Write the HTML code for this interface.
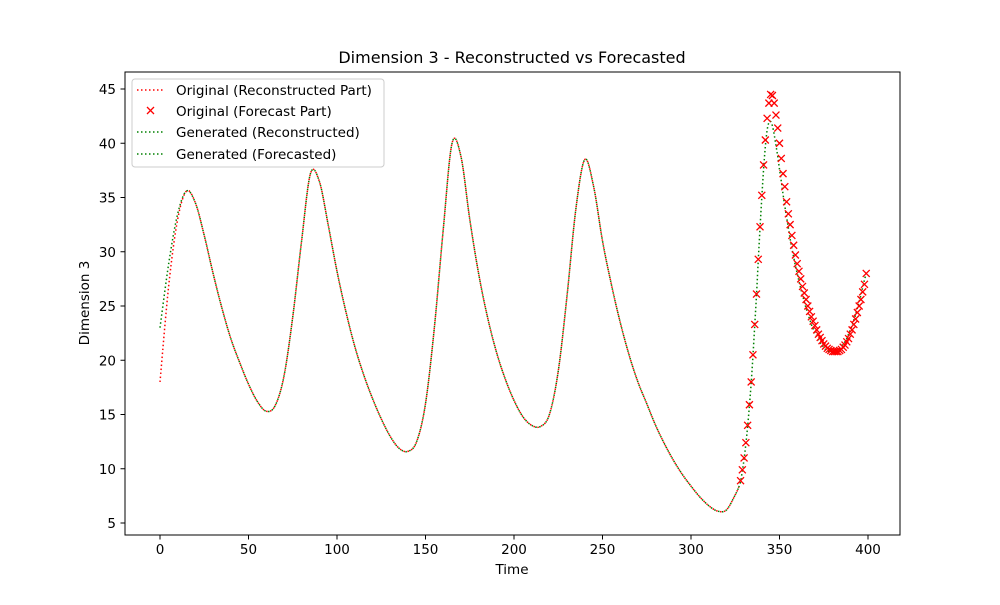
<!DOCTYPE html>
<html><head><meta charset="utf-8"><style>
body{margin:0;background:#fff;font-family:"Liberation Sans","DejaVu Sans",sans-serif}
svg text{font-family:"DejaVu Sans","Liberation Sans",sans-serif}
</style></head><body>
<svg id="chart" width="1000" height="600">
<rect width="1000" height="600" fill="#fff"/>
<text x="512" y="63" text-anchor="middle" font-size="16">Dimension 3 - Reconstructed vs Forecasted</text>
<g id="axes"></g>
<g id="series"></g>
<rect x="125" y="72" width="775" height="463" fill="none" stroke="#000" stroke-width="1"/>
<text x="512" y="574" text-anchor="middle" font-size="13.5">Time</text>
<text transform="translate(89,303) rotate(-90)" text-anchor="middle" font-size="13.5">Dimension 3</text>
<g>
<rect x="132" y="79" width="252" height="88" rx="3" fill="#fff" fill-opacity="0.8" stroke="#ccc"/>
<g>
<line x1="137" y1="90" x2="165" y2="90" stroke="red" stroke-width="1.5" stroke-dasharray="1.5,2.5"/>
<text x="176" y="95" font-size="13.5">Original (Reconstructed Part)</text></g>
<g>
<path d="M147,107 l7,7 M154,107 l-7,7" stroke="red" stroke-width="1.3"/>
<text x="176" y="116" font-size="13.5">Original (Forecast Part)</text></g>
<g>
<line x1="137" y1="132" x2="165" y2="132" stroke="green" stroke-width="1.5" stroke-dasharray="1.5,2.5"/>
<text x="176" y="137" font-size="13.5">Generated (Reconstructed)</text></g>
<g>
<line x1="137" y1="154" x2="165" y2="154" stroke="green" stroke-width="1.5" stroke-dasharray="1.5,2.5"/>
<text x="176" y="159" font-size="13.5">Generated (Forecasted)</text></g>
</g>
</svg>
<script>
const xTicks=[0,50,100,150,200,250,300,350,400];
const yTicks=[5,10,15,20,25,30,35,40,45];
const reconTimes=[0,5,10,15,20,25,30,35,40,45,50,55,60,65,70,75,80,85,90,95,100,105,110,115,120,125,130,135,140,145,150,155,160,165,170,175,180,185,190,195,200,205,210,215,220,225,230,235,240,245,250,255,260,265,270,275,280,285,290,295,300,305,310,315,320,325,327];
const origRecon=[18,27,33,35.6,34.5,31.5,28,24.8,22,19.8,17.8,16.2,15.3,15.8,18.5,24,31,37.2,36.5,32.5,28.2,24.5,21.3,18.7,16.5,14.6,13,11.9,11.6,12.5,16,23,32,40,38.8,33,28,24,20.8,18.3,16.3,14.8,14,13.9,15,19,26,34,38.5,36,31,27,23.5,20.5,18,16,14,12.3,10.8,9.5,8.4,7.4,6.6,6.1,6.2,7.6,8.3];
const genRecon=[23,29,33.5,35.6,34.5,31.5,28,24.8,22,19.8,17.8,16.2,15.3,15.8,18.5,24,31,37.2,36.5,32.5,28.2,24.5,21.3,18.7,16.5,14.6,13,11.9,11.6,12.5,16,23,32,40,38.8,33,28,24,20.8,18.3,16.3,14.8,14,13.9,15,19,26,34,38.5,36,31,27,23.5,20.5,18,16,14,12.3,10.8,9.5,8.4,7.4,6.6,6.1,6.2,7.6,8.3];
const fcStart=328;
const origForecast=[8.9,9.9,11,12.4,14,15.9,18,20.5,23.3,26.1,29.3,32.3,35.2,38,40.3,42.3,43.7,44.5,44.4,43.7,42.6,41.4,40,38.6,37.2,36,34.6,33.5,32.5,31.5,30.6,29.7,28.9,28.2,27.5,26.8,26.2,25.6,25,24.5,24,23.6,23.2,22.8,22.4,22.1,21.8,21.5,21.3,21.1,21,20.9,20.8,20.8,20.8,20.8,20.9,21,21.2,21.4,21.7,22,22.4,22.8,23.3,23.8,24.4,25,25.6,26.3,27,28];
const genForecast=[8.8,9.8,10.9,12.3,13.9,15.8,17.9,20.4,23.2,26,29.2,32.2,35,37.6,39.7,41.2,41.9,42,41.6,40.8,39.8,38.8,37.6,36.5,35.3,34.2,33.2,32.2,31.2,30.3,29.5,28.7,28,27.3,26.6,26,25.4,24.8,24.3,23.8,23.3,22.9,22.5,22.2,21.9,21.6,21.4,21.2,21,20.9,20.8,20.8,20.8,20.8,20.9,21,21.1,21.3,21.5,21.7,22,22.4,22.8,23.2,23.7,24.2,24.8,25.4,26,26.7,27.4,28];
const X=t=>160+t*1.77, Y=v=>523-(v-5)*10.85;
const NS='http://www.w3.org/2000/svg';
function mk(tag,attrs,parent){const e=document.createElementNS(NS,tag);for(const k in attrs)e.setAttribute(k,attrs[k]);parent.appendChild(e);return e;}
const ax=document.getElementById('axes'), sr=document.getElementById('series');
xTicks.forEach(t=>{
 const l=mk('line',{x1:X(t),x2:X(t),y1:535,y2:539.5,stroke:'#000'},ax);
 
 
 const tx=mk('text',{x:X(t),y:554,'text-anchor':'middle','font-size':'13.5'},ax);tx.textContent=t;
 
 
});
yTicks.forEach(v=>{
 const l=mk('line',{x1:120.5,x2:125,y1:Y(v),y2:Y(v),stroke:'#000'},ax);
 
 
 const tx=mk('text',{x:116,y:Y(v)+5,'text-anchor':'end','font-size':'13.5'},ax);tx.textContent=v;
 
 
});
function smooth(pts){let d='M'+pts[0][0]+','+pts[0][1];
 for(let i=0;i<pts.length-1;i++){const p0=pts[i-1]||pts[i],p1=pts[i],p2=pts[i+1],p3=pts[i+2]||p2;
  d+=' C'+(p1[0]+(p2[0]-p0[0])/6)+','+(p1[1]+(p2[1]-p0[1])/6)+' '+(p2[0]-(p3[0]-p1[0])/6)+','+(p2[1]-(p3[1]-p1[1])/6)+' '+p2[0]+','+p2[1];}
 return d;}
const reconPts=a=>reconTimes.map((t,i)=>[X(t),Y(a[i])]);
const fcPts=a=>a.map((v,i)=>[X(fcStart+i),Y(v)]);
const p1=mk('path',{d:smooth(reconPts(origRecon)),fill:'none',stroke:'red','stroke-width':1.5,'stroke-dasharray':'1.5,2.5'},sr);


const p2=mk('path',{d:smooth(reconPts(genRecon)),fill:'none',stroke:'green','stroke-width':1.5,'stroke-dasharray':'1.5,2.5'},sr);


const p3=mk('path',{d:smooth([[X(327),Y(genRecon[genRecon.length-1])]].concat(fcPts(genForecast))),fill:'none',stroke:'green','stroke-width':1.5,'stroke-dasharray':'1.5,2.5'},sr);


origForecast.forEach((v,i)=>{const x=X(fcStart+i),y=Y(v);
 const m=mk('path',{d:`M${x-3.5},${y-3.5} L${x+3.5},${y+3.5} M${x+3.5},${y-3.5} L${x-3.5},${y+3.5}`,stroke:'red','stroke-width':1.3,fill:'none'},sr);
 
 
});
</script>
</body></html>
